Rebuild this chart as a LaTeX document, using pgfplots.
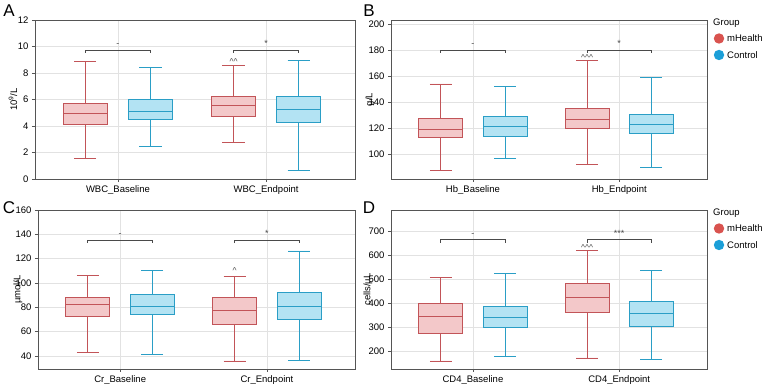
\documentclass[border=0pt]{standalone}
\usepackage{fontspec}
\setmainfont{Liberation Sans}
\usepackage{pgfplots}
\pgfplotsset{compat=1.18}
\usepgfplotslibrary{statistics}

\definecolor{mhEdge}{HTML}{C25458}
\definecolor{mhFill}{HTML}{F3C8C9}
\definecolor{ctEdge}{HTML}{2A9EC6}
\definecolor{ctFill}{HTML}{B3E3F3}
\definecolor{mhDot}{HTML}{D9534F}
\definecolor{ctDot}{HTML}{1C9FD8}
\definecolor{frameCol}{HTML}{555555}
\definecolor{gridCol}{HTML}{E2E2E2}
\definecolor{brkCol}{HTML}{4A4A4A}

\pgfplotsset{
  panel/.style={
    scale only axis,
    anchor=south west,
    height=159pt,
    xmin=0.44, xmax=2.6,
    xtick={1,2},
    grid=major,
    major grid style={gridCol, line width=0.6pt},
    axis line style={frameCol, line width=0.8pt},
    tick style={frameCol, line width=0.6pt},
    tick align=outside,
    major tick length=3pt,
    xtick pos=bottom, ytick pos=left,
    tick label style={font=\fontsize{9.5}{11}\selectfont},
    /pgf/number format/assume math mode=true,
    every axis y label/.style={at={(axis description cs:0,0.5)},rotate=90,anchor=center,font=\fontsize{9.5}{11}\selectfont},
    boxplot/draw direction=y,
    boxplot/box extend=0.3,
    boxplot/whisker extend=0.15,
    clip=false,
  },
  mh/.style={draw=mhEdge, fill=mhFill, line width=0.9pt, solid},
  ct/.style={draw=ctEdge, fill=ctFill, line width=0.9pt, solid},
}

% significance bracket between the two boxes of a category
\newcommand{\bracket}[3]{%
  \draw[brkCol, line width=0.8pt] ([yshift=-3pt]axis cs:#1-0.22,#2) -- (axis cs:#1-0.22,#2) -- (axis cs:#1+0.22,#2) -- ([yshift=-3pt]axis cs:#1+0.22,#2);
  \node[anchor=base, inner sep=0pt, yshift=3.5pt, font=\fontsize{9}{10}\selectfont, text=brkCol] at (axis cs:#1,#2) {#3};
}
% within-group change mark above a whisker
\newcommand{\within}[3]{%
  \node[anchor=base, inner sep=0pt, yshift=0.5pt, font=\fontsize{8.5}{10}\selectfont, text=brkCol] at (axis cs:#1,#2) {#3};
}
% one legend block: "Group" row at height #1
\newcommand{\grouplegend}[1]{%
  \node[anchor=west, inner sep=0pt] at (713pt,#1) {Group};
  \fill[mhDot] ([yshift=-15.5pt]719pt,#1) circle (5.2pt);
  \node[anchor=west, inner sep=0pt] at ([yshift=-15.5pt]727pt,#1) {mHealth};
  \fill[ctDot] ([yshift=-32pt]719pt,#1) circle (5.2pt);
  \node[anchor=west, inner sep=0pt] at ([yshift=-32pt]727pt,#1) {Control};
}

\begin{document}
\begin{tikzpicture}
\path[use as bounding box] (0pt,0pt) rectangle (767pt,387pt);

% ---------------- A: WBC ----------------
\begin{axis}[panel, at={(35pt,208pt)}, width=320pt,
  ymin=0, ymax=12, ytick={0,2,...,12},
  xticklabels={WBC\_Baseline, WBC\_Endpoint},
  ylabel={10\textsuperscript{9}/L}, ylabel style={yshift=22pt}]
\addplot[mh, boxplot prepared={draw position=0.78, lower whisker=1.56, lower quartile=4.08, median=4.96, upper quartile=5.71, upper whisker=8.86}] coordinates {};
\addplot[ct, boxplot prepared={draw position=1.22, lower whisker=2.42, lower quartile=4.50, median=5.13, upper quartile=6.01, upper whisker=8.40}] coordinates {};
\addplot[mh, boxplot prepared={draw position=1.78, lower whisker=2.79, lower quartile=4.73, median=5.56, upper quartile=6.21, upper whisker=8.60}] coordinates {};
\addplot[ct, boxplot prepared={draw position=2.22, lower whisker=0.63, lower quartile=4.28, median=5.26, upper quartile=6.21, upper whisker=8.91}] coordinates {};
\bracket{1}{9.74}{-}
\bracket{2}{9.74}{*}
\within{1.78}{8.60}{\textasciicircum\textasciicircum}
\end{axis}

% ---------------- B: Hb ----------------
\begin{axis}[panel, at={(391pt,208pt)}, width=316pt,
  ymin=81, ymax=203, ytick={100,120,...,200},
  xticklabels={Hb\_Baseline, Hb\_Endpoint},
  ylabel={g/L}, ylabel style={yshift=21pt}]
\addplot[mh, boxplot prepared={draw position=0.78, lower whisker=87.7, lower quartile=112.8, median=119.2, upper quartile=127.6, upper whisker=153.9}] coordinates {};
\addplot[ct, boxplot prepared={draw position=1.22, lower whisker=96.4, lower quartile=113.5, median=121.5, upper quartile=128.9, upper whisker=151.9}] coordinates {};
\addplot[mh, boxplot prepared={draw position=1.78, lower whisker=92.1, lower quartile=119.4, median=126.8, upper quartile=135.0, upper whisker=171.6}] coordinates {};
\addplot[ct, boxplot prepared={draw position=2.22, lower whisker=89.5, lower quartile=116.1, median=123.0, upper quartile=130.7, upper whisker=158.8}] coordinates {};
\bracket{1}{180}{-}
\bracket{2}{180}{*}
\within{1.78}{171.6}{\textasciicircum\textasciicircum\textasciicircum}
\end{axis}

% ---------------- C: Cr ----------------
\begin{axis}[panel, at={(38pt,18pt)}, width=317pt,
  ymin=29.3, ymax=160, ytick={40,60,...,160},
  xticklabels={Cr\_Baseline, Cr\_Endpoint},
  ylabel={µmol/L}, ylabel style={yshift=20pt}]
\addplot[mh, boxplot prepared={draw position=0.78, lower whisker=43.0, lower quartile=72.9, median=82.7, upper quartile=88.2, upper whisker=106.0}] coordinates {};
\addplot[ct, boxplot prepared={draw position=1.22, lower whisker=41.1, lower quartile=74.2, median=80.5, upper quartile=90.4, upper whisker=109.9}] coordinates {};
\addplot[mh, boxplot prepared={draw position=1.78, lower whisker=35.9, lower quartile=66.0, median=77.8, upper quartile=88.2, upper whisker=105.2}] coordinates {};
\addplot[ct, boxplot prepared={draw position=2.22, lower whisker=36.2, lower quartile=70.1, median=80.5, upper quartile=92.1, upper whisker=126.3}] coordinates {};
\bracket{1}{135.3}{-}
\bracket{2}{135.3}{*}
\within{1.78}{107}{\textasciicircum}
\end{axis}

% ---------------- D: CD4 ----------------
\begin{axis}[panel, at={(391pt,18pt)}, width=316pt,
  ymin=125, ymax=787, ytick={200,300,...,700},
  xticklabels={CD4\_Baseline, CD4\_Endpoint},
  ylabel={cells/µL}, ylabel style={yshift=23pt}]
\addplot[mh, boxplot prepared={draw position=0.78, lower whisker=158.3, lower quartile=273.6, median=343.0, upper quartile=398.6, upper whisker=505.6}] coordinates {};
\addplot[ct, boxplot prepared={draw position=1.22, lower whisker=177.8, lower quartile=298.6, median=340.3, upper quartile=384.7, upper whisker=520.8}] coordinates {};
\addplot[mh, boxplot prepared={draw position=1.78, lower whisker=170.8, lower quartile=359.7, median=422.2, upper quartile=479.2, upper whisker=616.7}] coordinates {};
\addplot[ct, boxplot prepared={draw position=2.22, lower whisker=165.3, lower quartile=301.7, median=357.0, upper quartile=408.3, upper whisker=534.7}] coordinates {};
\bracket{1}{662.5}{-}
\bracket{2}{662.5}{***}
\within{1.78}{616.7}{\textasciicircum\textasciicircum\textasciicircum}
\end{axis}

% ---------------- panel letters ----------------
\begin{scope}[every node/.style={font=\fontsize{17}{18}\selectfont, inner sep=0pt}]
\node at (9pt,376pt) {A};
\node at (369pt,376pt) {B};
\node at (9pt,179pt) {C};
\node at (369pt,179pt) {D};
\end{scope}

% ---------------- legends ----------------
\begin{scope}[font=\fontsize{9.5}{11}\selectfont]
\grouplegend{364pt}
\grouplegend{174pt}
\end{scope}
\end{tikzpicture}
\end{document}
